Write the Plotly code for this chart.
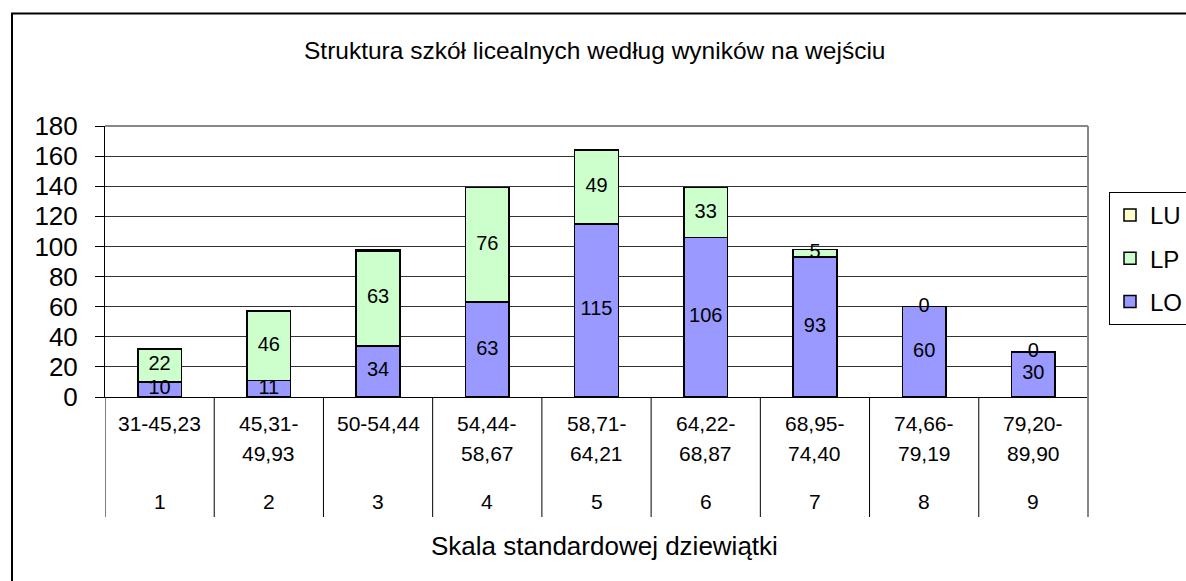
import plotly.graph_objects as go

ranges = ["31-45,23", "45,31-\n49,93", "50-54,44", "54,44-\n58,67", "58,71-\n64,21",
          "64,22-\n68,87", "68,95-\n74,40", "74,66-\n79,19", "79,20-\n89,90"]
stanines = ["1", "2", "3", "4", "5", "6", "7", "8", "9"]
LO = [10, 11, 34, 63, 115, 106, 93, 60, 30]
LP = [22, 46, 63, 76, 49, 33, 5, 0, 0]
LU = [0, 0, 1, 0, 0, 0, 0, 0, 0]

W, H = 1186, 581
L, R, T, B = 105, 1088, 126, 397
pw, ph = R - L, B - T
FONT = "Liberation Sans, Arial"

def px(x):
    return (x - L) / pw

def py(y):
    return (B - y) / ph

xs = list(range(len(stanines)))
fig = go.Figure()
line = dict(color="black", width=1.5)
fig.add_trace(go.Bar(x=xs, y=LO, name="LO", legendgroup="LO", legendrank=3,
                     marker=dict(color="#9999FF", line=line), width=0.4))
fig.add_trace(go.Bar(x=xs, y=LP, name="LP", legendgroup="LP", legendrank=2,
                     marker=dict(color="#CCFFCC", line=line), width=0.4))
fig.add_trace(go.Bar(x=xs, y=LU, name="LU", legendgroup="LU", legendrank=1,
                     marker=dict(color="#FFFFCC", line=line), width=0.4))

# data labels
tx, ty, tt = [], [], []
for i in xs:
    tx.append(i); ty.append(LO[i] / 2); tt.append(str(LO[i]))
    tx.append(i); ty.append(LO[i] + LP[i] / 2); tt.append(str(LP[i]))
fig.add_trace(go.Scatter(x=tx, y=ty, text=tt, mode="text", showlegend=False,
                         textfont=dict(family=FONT, size=20, color="black"),
                         hoverinfo="skip"))

shapes = []
annotations = []
shapes.append(dict(type="line", xref="paper", yref="paper", x0=0, x1=1, y0=1, y1=1,
                   line=dict(color="#888888", width=2)))
shapes.append(dict(type="line", xref="paper", yref="paper", x0=1, x1=1, y0=py(517), y1=1,
                   line=dict(color="#888888", width=2)))
for k in range(len(stanines)):
    shapes.append(dict(type="line", xref="x", yref="paper", x0=k - 0.5, x1=k - 0.5,
                       y0=py(517), y1=0, line=dict(color="black", width=1)))
shapes.append(dict(type="rect", xref="paper", yref="paper", x0=px(12), x1=px(1200),
                   y0=py(600), y1=py(13.5), line=dict(color="black", width=2)))

lab_font = dict(family=FONT, size=21, color="black")
for i, r in enumerate(ranges):
    parts = r.split("\n")
    for j, p in enumerate(parts):
        annotations.append(dict(x=i, y=py(423 + 30 * j), xref="x", yref="paper", text=p,
                                showarrow=False, font=lab_font, yanchor="middle"))
    annotations.append(dict(x=i, y=py(501), xref="x", yref="paper", text=stanines[i],
                            showarrow=False, font=lab_font, yanchor="middle"))

annotations.append(dict(x=px(604), y=py(546), xref="paper", yref="paper",
                        text="Skala standardowej dziewiątki", showarrow=False,
                        font=dict(family=FONT, size=26, color="black"),
                        yanchor="middle"))
annotations.append(dict(x=px(594), y=py(50), xref="paper", yref="paper",
                        text="Struktura szkół licealnych według wyników na wejściu", showarrow=False,
                        font=dict(family=FONT, size=24.5, color="black"),
                        yanchor="middle"))

fig.update_layout(
    width=W, height=H, barmode="stack",
    margin=dict(l=L, r=W - R, t=T, b=H - B, pad=0, autoexpand=False),
    paper_bgcolor="white", plot_bgcolor="white",
    font=dict(family=FONT, color="black"),
    xaxis=dict(range=[-0.5, 8.5], showticklabels=False, showgrid=False, zeroline=False,
               showline=True, linecolor="black", linewidth=1, ticks=""),
    yaxis=dict(range=[0, 180], dtick=20, showgrid=True, gridcolor="#333333", gridwidth=1,
               zeroline=False, showline=True, linecolor="black", linewidth=1,
               ticks="outside", ticklen=9, tickcolor="black", ticklabelstandoff=12,
               tickfont=dict(size=26, family=FONT)),
    legend=dict(x=px(1109), y=py(192), xanchor="left", yanchor="top",
                traceorder="grouped", bordercolor="black", borderwidth=1,
                font=dict(size=24, family=FONT), itemwidth=30,
                tracegroupgap=9),
    shapes=shapes, annotations=annotations, showlegend=True,
    bargap=0.6,
)
fig.write_html("out.html", config={"displayModeBar": False},
               post_script="document.body.style.margin='0';")
